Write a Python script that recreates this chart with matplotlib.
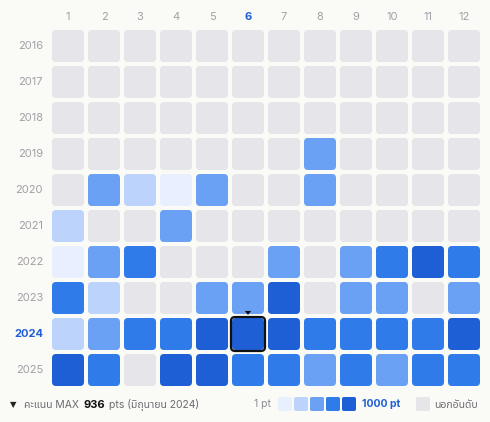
import matplotlib
matplotlib.use("Agg")
import matplotlib.pyplot as plt
from matplotlib.patches import FancyBboxPatch, Polygon
import numpy as np

# ระดับคะแนนต่อเดือน (0 = นอกอันดับ, 1..5 = ระดับสีจาก 1 pt ถึง 1000 pt)
years = [2016, 2017, 2018, 2019, 2020, 2021, 2022, 2023, 2024, 2025]
months = [1, 2, 3, 4, 5, 6, 7, 8, 9, 10, 11, 12]
levels = [
    [0, 0, 0, 0, 0, 0, 0, 0, 0, 0, 0, 0],
    [0, 0, 0, 0, 0, 0, 0, 0, 0, 0, 0, 0],
    [0, 0, 0, 0, 0, 0, 0, 0, 0, 0, 0, 0],
    [0, 0, 0, 0, 0, 0, 0, 3, 0, 0, 0, 0],
    [0, 3, 2, 1, 3, 0, 0, 3, 0, 0, 0, 0],
    [2, 0, 0, 3, 0, 0, 0, 0, 0, 0, 0, 0],
    [1, 3, 4, 0, 0, 0, 3, 0, 3, 4, 5, 4],
    [4, 2, 0, 0, 3, 3, 5, 0, 3, 3, 0, 3],
    [2, 3, 4, 4, 5, 5, 5, 4, 4, 4, 4, 5],
    [5, 4, 0, 5, 5, 4, 4, 3, 4, 3, 4, 4],
]
max_pts = 936
max_year, max_month = 2024, 6

palette = ["#e6e6ea", "#e8effe", "#bcd4fb", "#6aa1f4", "#2f7bea", "#1f5fd5"]
label_color = "#a49fa6"
accent = "#1f5fd5"
bg = "#fafaf7"

plt.rcParams["font.family"] = ["Inter", "Noto Sans Thai"]

fig = plt.figure(figsize=(4.9, 4.22), dpi=100, facecolor=bg)
ax = fig.add_axes([0, 0, 1, 1])
ax.set_facecolor(bg)
# 36 px ต่อหนึ่งช่อง ทั้งแกน x และ y
ax.set_xlim(1 - 68 / 36, 1 + (490 - 68) / 36)
ax.set_ylim(2016 + (422 - 46) / 36, 2016 - 46 / 36)
ax.axis("off")

cell = 32 / 36
r = 4 / 36
for i, y in enumerate(years):
    for j, m in enumerate(months):
        lv = levels[i][j]
        ax.add_patch(FancyBboxPatch((m - cell / 2 + r, y - cell / 2 + r), cell - 2 * r, cell - 2 * r,
                                    boxstyle="round,pad=%f" % r, fc=palette[lv], ec="none"))

# ช่องที่ได้คะแนนสูงสุด
c = cell + 2 / 36
ax.add_patch(FancyBboxPatch((max_month - c / 2 + r, max_year - c / 2 + r), c - 2 * r, c - 2 * r,
                            boxstyle="round,pad=%f" % r, fc="none", ec="#111111", lw=1.6, zorder=3))
ax.add_patch(Polygon([[max_month - 0.09, max_year - 0.64], [max_month + 0.09, max_year - 0.64],
                      [max_month, max_year - 0.53]], closed=True, fc="#111111", ec="none", zorder=3))

for m in months:
    hl = m == max_month
    ax.text(m, 2016 - 29 / 36, str(m), ha="center", va="center", fontsize=8,
            color=accent if hl else label_color, fontweight="bold" if hl else "normal")
for y in years:
    hl = y == max_year
    ax.text(1 - 25 / 36, y, str(y), ha="right", va="center", fontsize=8,
            color=accent if hl else label_color, fontweight="bold" if hl else "normal")

# คำอธิบายด้านล่าง (พิกัดพิกเซล)
def px(x, y):
    return x / 490, 1 - y / 422

renderer = fig.canvas.get_renderer()

def chain(x, y, s, **kw):
    t = fig.text(*px(x, y), s, ha="left", va="center", **kw)
    return t.get_window_extent(renderer).x1

fig.text(*px(10, 405), "▼", fontsize=6, color="#222222", ha="left", va="center", family="DejaVu Sans")
x = chain(24, 405, "คะแนน MAX", fontsize=7.5, color="#6e6a72")
x = chain(x + 4, 405, str(max_pts), fontsize=8, color="#111111", fontweight="bold")
chain(x + 4, 405, "pts (มิถุนายน %d)" % max_year, fontsize=7.5, color="#6e6a72")

fig.text(*px(254, 404), "1 pt", fontsize=7.5, color="#8e8a92", ha="left", va="center")
for k in range(1, 6):
    x0 = 278 + (k - 1) * 16
    fig.patches.append(FancyBboxPatch((x0 / 490 + 0.004, 1 - 411 / 422 + 0.004), 14 / 490 - 0.008,
                                      14 / 422 - 0.008, boxstyle="round,pad=0.004",
                                      transform=fig.transFigure, fc=palette[k], ec="none"))
fig.text(*px(362, 404), "1000 pt", fontsize=7.5, color=accent, fontweight="bold", ha="left", va="center")
fig.patches.append(FancyBboxPatch((416 / 490 + 0.004, 1 - 411 / 422 + 0.004), 14 / 490 - 0.008,
                                  14 / 422 - 0.008, boxstyle="round,pad=0.004",
                                  transform=fig.transFigure, fc=palette[0], ec="none"))
fig.text(*px(434, 405), "นอกอันดับ", fontsize=7.5, color="#6e6a72", ha="left", va="center")

fig.savefig("out.png", dpi=100, facecolor=bg)
